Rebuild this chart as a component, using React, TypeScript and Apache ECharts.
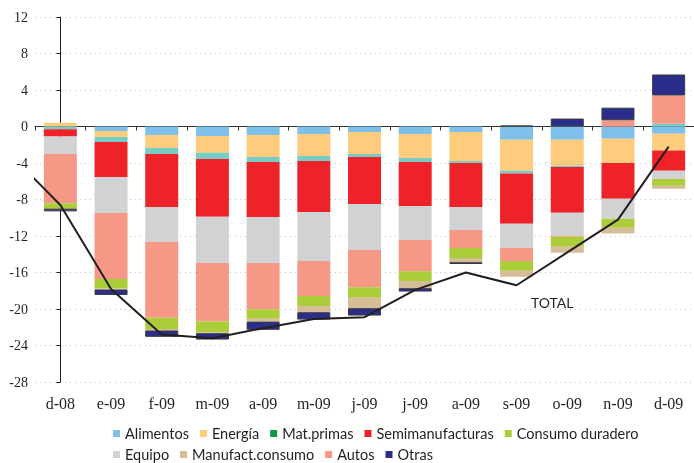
import React, { useEffect, useRef } from 'react';
import * as echarts from 'echarts';

const categories = ['d-08', 'e-09', 'f-09', 'm-09', 'a-09', 'm-09', 'j-09', 'j-09', 'a-09', 's-09', 'o-09', 'n-09', 'd-09'];

const alimentos = [0, -0.5, -0.93, -1.04, -0.93, -0.82, -0.6, -0.82, -0.6, -1.46, -1.46, -1.35, -0.8];
const energia = [0.4, -0.65, -1.42, -1.83, -2.41, -2.41, -2.41, -2.63, -3.18, -3.39, -2.84, -2.64, -1.83];
const matPrimas = [-0.3, -0.55, -0.65, -0.69, -0.55, -0.55, -0.33, -0.44, -0.22, -0.29, -0.15, 0, 0.3];
const semimanufacturas = [-0.8, -3.83, -5.82, -6.32, -6.02, -5.58, -5.15, -4.82, -4.82, -5.52, -5.0, -3.94, -2.23];
const equipo = [-1.9, -3.94, -3.83, -5.07, -5.04, -5.37, -5.04, -3.72, -2.52, -2.63, -2.52, -2.19, -0.88];
const autos = [-5.4, -7.23, -8.32, -6.43, -5.08, -3.84, -4.08, -3.43, -1.97, -1.46, -0.1, 0.68, 3.1];
const consumoDuradero = [-0.6, -1.06, -1.23, -1.17, -1.05, -1.09, -1.17, -1.06, -1.09, -1.06, -1.1, -0.98, -0.76];
const manufactConsumo = [0, -0.1, -0.15, -0.1, -0.3, -0.69, -1.13, -0.8, -0.47, -0.66, -0.66, -0.62, -0.33];
const otras = [-0.3, -0.6, -0.7, -0.7, -0.9, -0.81, -0.81, -0.37, -0.2, 0.1, 0.87, 1.38, 2.3];

// TOTAL line: first value is the previous month (n-08), partly outside the plot
const total = [-3.0, -8.6, -17.8, -22.8, -23.2, -22.1, -21.1, -20.9, -17.9, -16.0, -17.4, -13.8, -10.2, -2.2];

const yTicks = { min: -28, max: 12, interval: 4 };

const legendRow1 = ['Alimentos', 'Energía', 'Mat.primas', 'Semimanufacturas', 'Consumo duradero'];
const legendRow2 = ['Equipo', 'Manufact.consumo', 'Autos', 'Otras'];

const stackSeries = [
  { name: 'Alimentos', data: alimentos, color: '#7fc0ea' },
  { name: 'Energía', data: energia, color: '#fecc7c' },
  { name: 'Mat.primas', data: matPrimas, color: '#77cdc6', legendColor: '#0c9a4a' },
  { name: 'Semimanufacturas', data: semimanufacturas, color: '#ee2229' },
  { name: 'Equipo', data: equipo, color: '#d1d2d4' },
  { name: 'Autos', data: autos, color: '#f69886' },
  { name: 'Consumo duradero', data: consumoDuradero, color: '#abcd3a' },
  { name: 'Manufact.consumo', data: manufactConsumo, color: '#d4bd97' },
  { name: 'Otras', data: otras, color: '#2b2d8b', border: true },
];

const textColor = '#231f20';
const serif = '"Liberation Serif", "DejaVu Serif", serif';

function legendData(names: string[]) {
  return names.map((n) => {
    const s = stackSeries.find((x) => x.name === n)!;
    return { name: n, itemStyle: { color: (s as any).legendColor || s.color, borderWidth: 0 } };
  });
}

export default function App() {
  const ref = useRef<HTMLDivElement>(null);
  useEffect(() => {
    const chart = echarts.init(ref.current!, null, { renderer: 'svg' });
    const legendCommon = {
      left: 113,
      icon: 'rect',
      itemWidth: 7,
      itemHeight: 7,
      itemGap: 11,
      padding: 0,
      selectedMode: false,
      textStyle: { fontFamily: 'Lato', fontSize: 14.5, lineHeight: 15, color: textColor },
    };
    chart.setOption({
      animation: false,
      grid: { left: 35, right: -8, top: 17, bottom: 81 },
      legend: [
        { ...legendCommon, top: 426, data: legendData(legendRow1) },
        { ...legendCommon, top: 447, data: legendData(legendRow2) },
      ],
      xAxis: [
        {
          type: 'category',
          data: categories,
          position: 'bottom',
          axisLine: { show: false, onZero: false },
          axisTick: { show: false },
          axisLabel: { fontFamily: serif, fontSize: 16, color: textColor, margin: 13 },
        },
        {
          type: 'category',
          data: categories,
          position: 'bottom',
          axisLine: { show: true, onZero: true, lineStyle: { color: '#333', width: 1.2 } },
          axisTick: { show: true, length: 4, lineStyle: { color: '#333' } },
          axisLabel: { show: false },
        },
        {
          type: 'value',
          min: -0.5,
          max: 12.5,
          show: false,
        },
      ],
      yAxis: {
        type: 'value',
        ...yTicks,
        axisLine: { show: true, lineStyle: { color: '#231f20', width: 1 } },
        axisTick: { show: true, length: 4, lineStyle: { color: '#231f20' } },
        axisLabel: { fontFamily: serif, fontSize: 14, color: textColor, margin: 7 },
        splitLine: { show: true, lineStyle: { color: '#c4c4c4', type: [1, 4], width: 1 } },
      },
      series: [
        ...stackSeries.map((s) => ({
          type: 'bar',
          name: s.name,
          stack: 'total',
          xAxisIndex: 0,
          yAxisIndex: 0,
          barWidth: 33,
          data: s.data,
          itemStyle: (s as any).border
            ? { color: s.color, borderColor: '#3a3a3a', borderWidth: 1 }
            : { color: s.color },
        })),
        {
          type: 'line',
          name: 'TOTAL',
          xAxisIndex: 2,
          yAxisIndex: 0,
          data: total.map((v, i) => [i - 1, v]),
          symbol: 'none',
          clip: true,
          lineStyle: { color: '#231f20', width: 2 },
          z: 5,
        },
      ],
      graphic: [
        {
          type: 'text',
          left: 531,
          top: 295,
          style: { text: 'TOTAL', fontFamily: 'Lato', fontSize: 14, fill: textColor },
        },
      ],
    });
    return () => chart.dispose();
  }, []);
  return <div ref={ref} style={{ position: 'fixed', left: 0, top: 0, width: 694, height: 463 }} />;
}
